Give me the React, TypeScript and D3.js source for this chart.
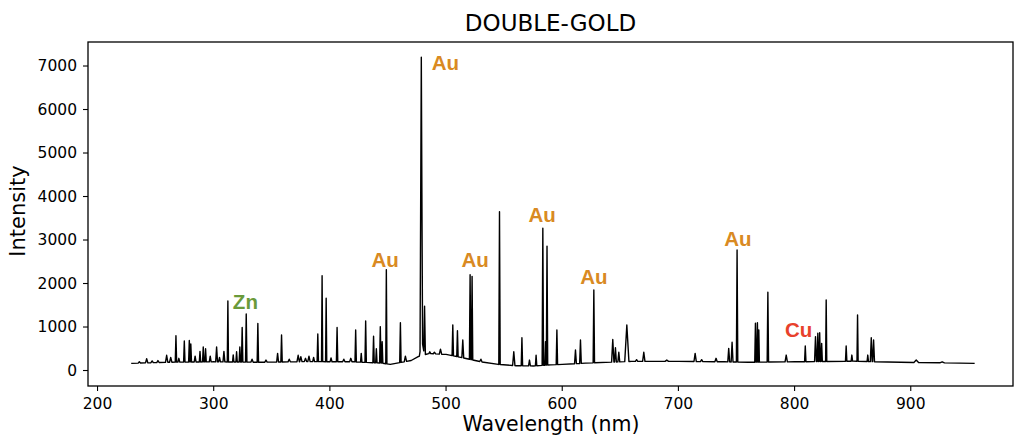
import * as d3 from 'd3';

// baseline of the spectrum, [wavelength nm, intensity]
const BASELINE: [number, number][] = [
  [229, 165], [260, 190], [300, 200], [340, 190], [380, 205], [420, 200],
  [445, 170], [452, 140], [470, 230], [476, 320], [485, 390], [500, 370],
  [515, 290], [530, 200], [545, 140], [560, 110], [575, 105], [590, 130],
  [600, 140], [620, 170], [660, 210], [700, 210], [740, 200], [760, 190],
  [800, 200], [850, 215], [880, 195], [955, 165],
];

// emission lines, [wavelength nm, peak intensity, half width nm]
const PEAKS: [number, number, number][] = [
  [236, 200, 1], [242.3, 270, 1], [247, 220, 1], [252, 230, 1], [259.5, 350, 1], [263, 300, 1],
  [267.5, 800, 0.6], [270, 280, 0.8], [274.7, 680, 0.6], [279, 690, 0.6], [280.3, 610, 0.6],
  [284, 330, 0.8], [288.2, 440, 0.6], [291, 540, 0.6], [293, 500, 0.6],
  [297, 330, 0.8], [302.5, 540, 0.8], [305, 300, 0.8], [308.8, 440, 0.8], [312.2, 1600, 0.5],
  [316.8, 360, 0.6], [319.7, 430, 0.6], [322.5, 540, 0.6], [324.5, 990, 0.6],
  [328, 1300, 0.6], [333, 260, 1], [338, 1080, 0.6], [345, 240, 1], [355, 395, 0.8], [358.4, 815, 0.6],
  [365, 260, 1], [372.7, 350, 1], [375, 320, 1], [379, 280, 1], [382, 330, 1], [386, 300, 0.8],
  [389.6, 840, 0.6], [393.3, 2180, 0.5], [396.8, 1660, 0.5], [401, 290, 0.8], [406.2, 990, 0.6],
  [412, 260, 1], [418, 280, 1], [422.2, 930, 0.6], [427, 395, 0.6], [430.8, 1140, 0.6], [437.6, 790, 0.6],
  [440, 500, 0.6], [443.4, 1010, 0.6], [445, 665, 0.6], [448.6, 2320, 0.5],
  [460.7, 1100, 0.6], [465, 330, 1], [478.7, 7200, 1.1], [479.2, 700, 2.2],
  [481.5, 1480, 0.7], [486, 430, 0.8], [490, 420, 1], [495.2, 490, 1], [505.8, 1050, 0.6],
  [509.8, 915, 0.6], [514.4, 700, 0.8], [520.7, 2200, 0.6], [522.4, 2165, 0.6],
  [530, 260, 1], [546, 3650, 0.6], [558.3, 430, 1], [565.3, 755, 0.6], [571.8, 240, 0.8],
  [577.5, 350, 0.6], [583.3, 3270, 0.6], [585.6, 665, 0.6], [586.9, 2860, 0.6],
  [595.4, 930, 0.6], [611.4, 470, 0.8], [615.7, 700, 0.7], [627.2, 1850, 0.6],
  [643.5, 715, 1], [645.8, 525, 0.8], [648.7, 420, 0.8], [655.6, 1045, 1.8],
  [664, 250, 1], [670.2, 420, 1], [690, 240, 1.5], [714.4, 395, 1], [720, 250, 1], [732.4, 280, 1], [743.3, 510, 0.8],
  [746.2, 650, 0.8], [750.5, 2770, 0.6], [766.3, 1085, 0.6], [768, 1100, 0.6],
  [769.2, 930, 0.5], [777, 1800, 0.6], [792.8, 355, 1], [809.2, 565, 0.6],
  [818, 780, 0.8], [820, 855, 0.6], [821.6, 870, 0.6], [823.3, 625, 0.6],
  [827.2, 1620, 0.5], [844.4, 565, 0.6], [849.3, 355, 0.6], [854.2, 1275, 0.5],
  [863, 355, 0.6], [866, 755, 0.8], [868, 700, 0.8], [904.7, 240, 2], [927, 200, 2],
];

// element labels, [text, wavelength of left edge, intensity of baseline, colour]
const LABELS: [string, number, number, string][] = [
  ['Au', 487.6, 6900, '#d98a22'],
  ['Zn', 316.5, 1414, '#6a9a3a'],
  ['Au', 435.8, 2379, '#d98a22'],
  ['Au', 513.2, 2379, '#d98a22'],
  ['Au', 571.0, 3414, '#d98a22'],
  ['Au', 615.5, 1989, '#d98a22'],
  ['Au', 739.5, 2862, '#d98a22'],
  ['Cu', 791.7, 770, '#e8412c'],
];

const X_TICKS = [200, 300, 400, 500, 600, 700, 800, 900];
const Y_TICKS = [0, 1000, 2000, 3000, 4000, 5000, 6000, 7000];

const FONT = 'DejaVu Sans, sans-serif';

export default function App() {
  const W = 1016;
  const H = 440;
  const left = 88, right = 1013, top = 42, bottom = 386;

  const x = d3.scaleLinear().domain([191.8, 988]).range([left, right]);
  const y = d3.scaleLinear().domain([-356, 7552]).range([bottom, top]);

  const base = d3.scaleLinear()
    .domain(BASELINE.map(d => d[0]))
    .range(BASELINE.map(d => d[1]))
    .clamp(true);

  const xs = new Set<number>(BASELINE.map(d => d[0]));
  PEAKS.forEach(([w, , hw]) => { xs.add(w - hw); xs.add(w); xs.add(w + hw); });
  const points: [number, number][] = Array.from(xs)
    .sort((a, b) => a - b)
    .map(wl => {
      let v = base(wl);
      for (const [w, inten, hw] of PEAKS) {
        const dist = Math.abs(wl - w);
        if (dist < hw) {
          const tri = inten - (inten - base(wl)) * (dist / hw);
          if (tri > v) v = tri;
        }
      }
      return [wl, v];
    });

  const line = d3.line<[number, number]>().x(d => x(d[0])).y(d => y(d[1]));

  return (
    <svg width={W} height={H} style={{ position: 'absolute', left: 0, top: 0, background: '#fff' }}>
      <text x={(left + right) / 2} y={31} textAnchor="middle" fontSize={23} fontFamily={FONT} fill="#000">
        DOUBLE-GOLD
      </text>

      <path d={line(points) ?? ''} fill="none" stroke="#000" strokeWidth={1.4} strokeLinejoin="round" />

      {LABELS.map(([t, w, v, c], i) => (
        <text key={i} x={x(w)} y={y(v)} fontSize={20.5} fontWeight={700} fontFamily="Liberation Sans, Arial, sans-serif" fill={c}>
          {t}
        </text>
      ))}

      <rect x={left} y={top} width={right - left} height={bottom - top} fill="none" stroke="#000" strokeWidth={1.3} />

      {X_TICKS.map(t => (
        <g key={t}>
          <line x1={x(t)} x2={x(t)} y1={bottom} y2={bottom + 5} stroke="#000" strokeWidth={1.1} />
          <text x={x(t)} y={409} textAnchor="middle" fontSize={15.5} fontFamily={FONT} fill="#000">{t}</text>
        </g>
      ))}
      {Y_TICKS.map(t => (
        <g key={t}>
          <line x1={left - 5} x2={left} y1={y(t)} y2={y(t)} stroke="#000" strokeWidth={1.1} />
          <text x={77} y={y(t)} textAnchor="end" dominantBaseline="central" fontSize={15.5} fontFamily={FONT} fill="#000">{t}</text>
        </g>
      ))}

      <text x={551} y={431} textAnchor="middle" fontSize={20.5} fontFamily={FONT} fill="#000">Wavelength (nm)</text>
      <text transform="translate(25,211) rotate(-90)" textAnchor="middle" fontSize={21} fontFamily={FONT} fill="#000">Intensity</text>
    </svg>
  );
}
